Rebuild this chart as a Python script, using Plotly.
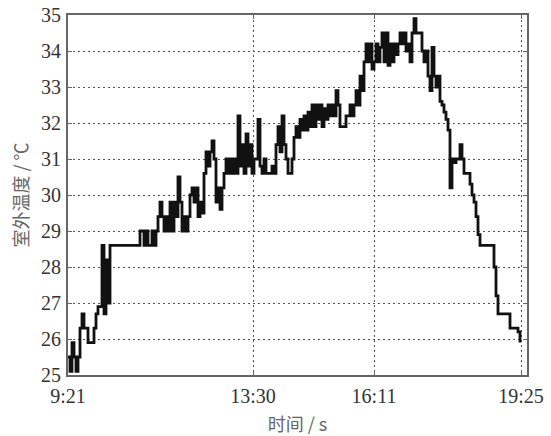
import plotly.graph_objects as go

# Outdoor temperature log, one reading every 2 sample steps (℃)
temp = [
    25.5, 25.1, 25.9, 25.5, 25.1, 25.5, 26.3, 26.7, 26.3, 26.3,
    25.9, 25.9, 25.9, 26.3, 26.7, 26.9, 26.9, 28.6, 26.7, 28.2,
    27.0, 28.6, 28.6, 28.6, 28.6, 28.6, 28.6, 28.6, 28.6, 28.6,
    28.6, 28.6, 28.6, 28.6, 28.6, 28.6, 29.0, 29.0, 28.6, 29.0,
    28.6, 28.6, 29.0, 28.6, 29.0, 29.4, 29.8, 29.4, 29.0, 29.4,
    29.0, 29.8, 29.0, 29.8, 29.4, 30.5, 29.8, 29.0, 29.4, 29.0,
    29.4, 30.0, 30.2, 29.8, 30.2, 29.4, 29.8, 29.5, 30.6, 31.2,
    30.8, 31.2, 31.5, 31.0, 29.8, 30.2, 29.6, 30.2, 30.6, 31.0,
    30.6, 31.0, 30.6, 31.0, 30.6, 32.2, 30.8, 31.4, 30.6, 31.7,
    30.8, 31.4, 30.6, 31.0, 31.0, 32.1, 30.8, 30.6, 31.0, 30.6,
    30.6, 30.6, 30.8, 30.6, 31.4, 31.9, 31.2, 32.2, 31.4, 31.0,
    30.6, 30.6, 31.0, 31.6, 31.9, 31.6, 32.1, 31.8, 32.2, 31.8,
    32.3, 31.9, 32.5, 31.9, 32.5, 32.1, 32.5, 31.9, 32.4, 32.1,
    32.5, 32.2, 32.5, 32.2, 32.9, 32.5, 31.9, 31.9, 31.9, 32.2,
    32.2, 32.5, 32.2, 32.5, 32.9, 32.5, 33.3, 32.9, 33.7, 34.2,
    33.7, 34.2, 33.5, 33.7, 34.2, 33.7, 34.1, 34.5, 33.7, 34.5,
    33.6, 34.2, 33.7, 34.2, 33.9, 34.2, 34.5, 34.2, 34.5, 34.0,
    34.2, 33.7, 34.5, 34.9, 34.5, 34.5, 34.5, 34.0, 33.7, 34.0,
    33.3, 32.9, 34.1, 33.3, 33.0, 33.3, 32.6, 32.5, 32.3, 32.1,
    31.8, 30.2, 31.0, 30.9, 31.0, 31.0, 31.4, 31.0, 30.6, 30.6,
    30.6, 30.3, 30.0, 29.8, 29.4, 28.9, 28.6, 28.6, 28.6, 28.6,
    28.6, 28.6, 28.6, 28.0, 27.2, 26.7, 26.7, 26.7, 26.7, 26.7,
    26.7, 26.3, 26.3, 26.3, 26.3, 26.2, 25.9,
]
sample = [2 * k for k in range(len(temp))]

# Clock-time labels placed at their sample positions
tick_pos = [0, 185, 306, 453]
tick_text = ["9:21", "13:30", "16:11", "19:25"]

fig = go.Figure(
    go.Scatter(
        x=sample,
        y=temp,
        mode="lines",
        line=dict(color="#111111", width=2.8, shape="hv"),
        hoverinfo="skip",
    )
)

axis_common = dict(
    automargin=False,
    showline=True,
    linecolor="#666666",
    linewidth=2,
    mirror="ticks",
    ticks="inside",
    ticklen=4,
    tickcolor="#666666",
    showgrid=True,
    gridcolor="#555555",
    gridwidth=1.2,
    griddash="2px,3px",
    zeroline=False,
    tickfont=dict(family="Liberation Serif", size=20, color="#333333"),
)

fig.update_xaxes(
    range=[0, 459],
    tickvals=tick_pos,
    ticktext=tick_text,
    ticklabelstandoff=2,
    title=dict(
        text="时间 / s",
        font=dict(family="Noto Sans CJK SC", size=18, color="#666666"),
        standoff=16,
    ),
    **axis_common,
)
fig.update_yaxes(
    range=[25, 35],
    dtick=1,
    ticklabelstandoff=1,
    title=dict(
        text="室外温度 / ℃",
        font=dict(family="Noto Sans CJK SC", size=18, color="#666666"),
        standoff=8,
    ),
    **axis_common,
)

fig.update_layout(
    width=551,
    height=436,
    margin=dict(l=68, r=24, t=15, b=61),
    paper_bgcolor="white",
    plot_bgcolor="white",
    showlegend=False,
)

fig.write_html("out.html")
